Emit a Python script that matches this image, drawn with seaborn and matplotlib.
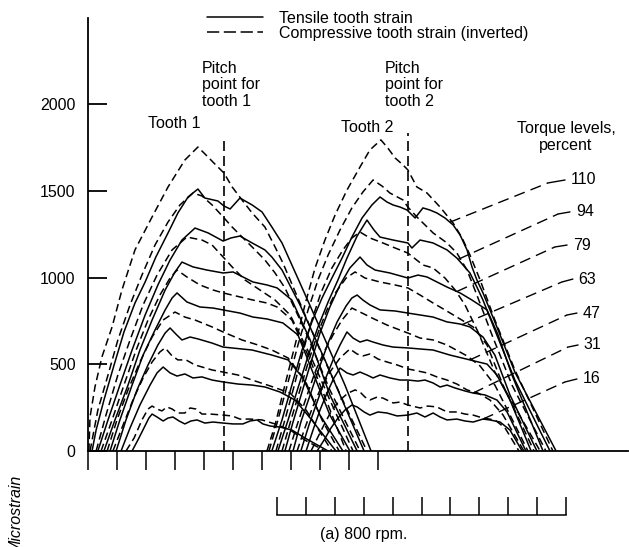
import numpy as np
import pandas as pd
import matplotlib
matplotlib.use("Agg")
import matplotlib.pyplot as plt
from matplotlib.lines import Line2D
import seaborn as sns

# Torque levels, percent
LEVELS = [110, 94, 79, 63, 47, 31, 16]

# ---- Tooth 1: (roll position, microstrain) ----
T1_COMP_110 = [(0.03, 0), (0.07, 196), (0.24, 369), (0.48, 542), (0.83, 715), (1.17, 928), (1.62, 1159), (2.21, 1349),
               (2.76, 1522), (3.34, 1677), (3.79, 1752), (4.07, 1706), (4.34, 1660), (4.69, 1602), (4.97, 1522),
               (5.31, 1447), (5.66, 1372), (6.10, 1291), (6.45, 1176), (6.72, 1084), (7.31, 853), (8.00, 582),
               (8.86, 265), (9.62, 0)]
T1_TEN_110 = [(0.14, 0), (0.28, 121), (0.55, 294), (0.90, 496), (1.24, 686), (1.62, 853), (1.97, 974), (2.34, 1118),
              (2.76, 1257), (3.10, 1372), (3.45, 1464), (3.79, 1510), (4.03, 1458), (4.48, 1441), (4.69, 1412),
              (4.90, 1395), (5.24, 1458), (5.66, 1418), (6.00, 1378), (6.34, 1291), (6.69, 1199), (7.31, 968),
              (8.00, 709), (8.86, 380), (9.76, 0)]
T1_COMP_94 = [(0.07, 0), (0.34, 236), (0.69, 438), (1.03, 640), (1.45, 842), (1.86, 1014), (2.31, 1187), (2.76, 1320),
              (3.17, 1418), (3.62, 1487), (3.93, 1470), (4.28, 1418), (4.66, 1349), (4.97, 1291), (5.31, 1234),
              (5.66, 1176), (6.10, 1101), (6.45, 1026), (6.79, 940), (7.48, 697), (8.34, 352), (9.38, 0)]
T1_TEN_94 = [(0.34, 0), (0.69, 179), (1.10, 380), (1.52, 582), (1.97, 784), (2.41, 957), (2.83, 1101), (3.24, 1216),
             (3.69, 1285), (4.14, 1257), (4.66, 1210), (4.93, 1228), (5.24, 1239), (5.66, 1199), (6.10, 1159),
             (6.34, 1118), (6.69, 1043), (7.31, 842), (8.17, 525), (9.52, 0)]
T1_COMP_79 = [(0.28, 0), (0.62, 207), (1.03, 438), (1.45, 640), (1.90, 842), (2.38, 1014), (2.90, 1159), (3.41, 1233),
              (3.93, 1216), (4.28, 1187), (4.66, 1118), (4.97, 1061), (5.41, 986), (5.93, 928), (6.45, 870),
              (6.97, 784), (7.66, 553), (8.34, 294), (9.14, 0)]
T1_TEN_79 = [(0.55, 0), (0.93, 179), (1.38, 380), (1.79, 582), (2.21, 755), (2.66, 928), (3.00, 1032), (3.24, 1089),
             (3.62, 1061), (4.10, 1043), (4.66, 1026), (5.00, 1032), (5.69, 974), (6.17, 957), (6.52, 940),
             (7.03, 870), (7.66, 640), (8.34, 323), (9.28, 0)]
T1_COMP_63 = [(0.45, 0), (0.83, 179), (1.24, 380), (1.66, 582), (2.07, 755), (2.48, 899), (2.83, 997), (3.07, 1043),
              (3.41, 1003), (3.86, 957), (4.31, 928), (4.66, 911), (5.24, 888), (5.69, 870), (6.17, 853),
              (6.52, 830), (7.03, 755), (7.66, 525), (8.28, 265), (8.90, 0)]
T1_TEN_63 = [(0.76, 0), (1.10, 179), (1.52, 380), (1.90, 553), (2.31, 697), (2.66, 813), (2.90, 882), (3.07, 911),
             (3.41, 859), (3.86, 830), (4.31, 824), (4.66, 813), (5.24, 795), (5.69, 772), (6.17, 761),
             (6.72, 738), (7.24, 669), (7.72, 467), (8.34, 207), (9.03, 0)]
T1_COMP_47 = [(0.66, 0), (1.00, 179), (1.38, 352), (1.79, 513), (2.21, 657), (2.59, 755), (3.00, 801), (3.34, 772),
              (3.69, 755), (4.28, 715), (4.66, 686), (5.31, 640), (5.86, 611), (6.34, 582), (6.90, 536),
              (7.48, 409), (8.07, 179), (8.66, 0)]
T1_TEN_47 = [(0.97, 0), (1.31, 179), (1.69, 352), (2.07, 496), (2.41, 611), (2.66, 680), (2.83, 709), (3.03, 674),
             (3.24, 640), (3.52, 657), (3.79, 646), (4.28, 622), (4.66, 599), (5.66, 582), (6.34, 553),
             (6.90, 525), (7.41, 421), (8.00, 207), (8.79, 0)]
T1_COMP_31 = [(0.86, 0), (1.21, 150), (1.55, 294), (1.90, 421), (2.21, 513), (2.48, 571), (2.66, 594), (2.90, 548),
              (3.10, 525), (3.38, 525), (3.69, 496), (4.28, 467), (4.66, 455), (5.17, 438), (5.66, 409),
              (6.28, 375), (6.97, 334), (7.52, 236), (8.41, 0)]
T1_TEN_31 = [(1.14, 0), (1.45, 133), (1.79, 265), (2.14, 380), (2.38, 450), (2.59, 484), (2.83, 450), (3.07, 432),
             (3.34, 444), (3.62, 421), (3.93, 427), (4.28, 409), (4.66, 398), (5.17, 386), (5.66, 380),
             (6.10, 369), (6.62, 340), (7.14, 294), (7.66, 190), (8.55, 0)]
T1_COMP_16 = [(1.31, 0), (1.59, 75), (1.86, 179), (2.07, 242), (2.21, 259), (2.38, 242), (2.55, 231), (2.72, 254),
              (2.90, 242), (3.10, 219), (3.34, 219), (3.52, 248), (3.72, 242), (3.93, 213), (4.21, 213),
              (4.66, 207), (4.97, 202), (5.24, 184), (5.59, 184), (6.00, 179), (6.45, 156), (6.97, 121),
              (7.48, 63), (8.17, 0)]
T1_TEN_16 = [(1.52, 0), (1.72, 63), (1.93, 133), (2.10, 190), (2.21, 213), (2.38, 196), (2.59, 173), (2.76, 190),
             (2.93, 196), (3.14, 173), (3.34, 156), (3.55, 173), (3.76, 179), (4.03, 161), (4.31, 167),
             (4.66, 161), (5.00, 156), (5.34, 156), (5.59, 173), (5.83, 179), (6.03, 156), (6.28, 144),
             (6.62, 138), (7.03, 121), (7.48, 75), (8.28, 0)]

# ---- Tooth 2 ----
T2_COMP_110 = [(6.17, 0), (6.45, 150), (6.79, 380), (7.14, 611), (7.48, 842), (7.83, 1055), (8.17, 1216), (8.52, 1360),
               (8.93, 1504), (9.38, 1637), (9.72, 1735), (10.10, 1793), (10.34, 1746), (10.59, 1689), (10.86, 1649),
               (11.03, 1620), (11.34, 1522), (11.69, 1487), (12.14, 1406), (12.59, 1314), (12.90, 1228),
               (13.17, 1130), (13.52, 986), (14.03, 755), (14.72, 467), (16.03, 0)]
T2_TEN_110 = [(6.34, 0), (6.69, 179), (7.03, 380), (7.38, 582), (7.72, 744), (8.07, 882), (8.41, 997), (8.76, 1112),
              (9.10, 1233), (9.45, 1343), (9.79, 1418), (10.07, 1464), (10.31, 1435), (10.52, 1418), (10.76, 1406),
              (11.00, 1389), (11.28, 1343), (11.55, 1401), (11.79, 1389), (12.03, 1372), (12.31, 1343),
              (12.59, 1303), (12.83, 1245), (13.07, 1159), (13.24, 1061), (13.41, 986), (13.62, 911),
              (14.03, 744), (14.72, 455), (16.14, 0)]
T2_COMP_94 = [(6.24, 0), (6.55, 179), (6.90, 398), (7.24, 611), (7.59, 813), (7.93, 986), (8.28, 1130), (8.69, 1274),
              (9.10, 1401), (9.48, 1493), (9.83, 1562), (10.14, 1527), (10.41, 1487), (10.86, 1447), (11.03, 1406),
              (11.34, 1349), (11.90, 1257), (12.38, 1199), (12.72, 1141), (13.07, 1043), (13.41, 899),
              (13.93, 669), (14.62, 380), (15.79, 0)]
T2_TEN_94 = [(6.55, 0), (6.90, 179), (7.24, 363), (7.59, 548), (7.93, 715), (8.28, 859), (8.62, 986), (8.93, 1112),
             (9.28, 1239), (9.62, 1331), (9.86, 1274), (10.07, 1233), (10.52, 1216), (11.03, 1199), (11.17, 1170),
             (11.45, 1216), (11.90, 1199), (12.38, 1159), (12.72, 1112), (12.93, 1072), (13.17, 1026),
             (13.41, 945), (13.62, 870), (14.03, 697), (14.72, 409), (15.93, 0)]
T2_COMP_79 = [(6.48, 0), (6.79, 179), (7.10, 369), (7.41, 571), (7.72, 755), (8.03, 911), (8.41, 1055), (8.79, 1159),
              (9.10, 1228), (9.38, 1262), (9.72, 1228), (10.17, 1199), (10.59, 1170), (11.03, 1141), (11.55, 1072),
              (11.90, 1055), (12.31, 997), (12.66, 928), (13.00, 842), (13.45, 686), (14.03, 455), (15.59, 0)]
T2_TEN_79 = [(6.79, 0), (7.07, 167), (7.38, 340), (7.69, 513), (8.00, 680), (8.34, 830), (8.69, 957), (9.03, 1055),
             (9.38, 1118), (9.62, 1072), (9.90, 1043), (10.41, 1026), (11.03, 997), (11.38, 1014), (11.69, 1003),
             (12.38, 945), (12.83, 911), (13.24, 870), (13.76, 813), (14.14, 669), (14.62, 438), (15.69, 0)]
T2_COMP_63 = [(6.69, 0), (7.00, 179), (7.31, 352), (7.62, 525), (7.93, 680), (8.24, 813), (8.55, 916), (8.90, 997),
              (9.21, 1032), (9.55, 997), (10.07, 974), (10.59, 957), (11.03, 940), (11.45, 899), (11.90, 853),
              (12.31, 813), (12.72, 772), (13.28, 715), (13.76, 611), (14.31, 380), (15.38, 0)]
T2_TEN_63 = [(7.07, 0), (7.34, 167), (7.66, 323), (7.97, 478), (8.28, 623), (8.59, 744), (8.90, 836), (9.10, 882),
             (9.28, 899), (9.48, 870), (9.72, 842), (10.07, 813), (10.59, 807), (11.03, 795), (11.45, 784),
             (11.90, 772), (12.38, 744), (12.83, 732), (13.17, 715), (13.62, 657), (14.03, 553), (14.55, 323),
             (15.48, 0)]
T2_COMP_47 = [(6.93, 0), (7.21, 150), (7.52, 305), (7.83, 455), (8.14, 571), (8.45, 669), (8.76, 755), (9.10, 824),
              (9.38, 801), (9.79, 767), (10.31, 726), (10.76, 697), (11.03, 680), (11.45, 651), (11.90, 640),
              (12.38, 611), (13.07, 548), (13.52, 490), (14.03, 380), (14.55, 208), (15.17, 0)]
T2_TEN_47 = [(7.34, 0), (7.62, 150), (7.90, 282), (8.17, 409), (8.45, 525), (8.69, 611), (8.93, 686), (9.14, 651),
             (9.38, 628), (9.62, 640), (9.83, 628), (10.17, 611), (10.52, 599), (11.03, 594), (11.45, 588),
             (11.90, 582), (12.48, 553), (13.17, 525), (13.76, 501), (14.10, 438), (14.55, 294), (15.28, 0)]
T2_COMP_31 = [(7.21, 0), (7.48, 133), (7.76, 259), (8.03, 363), (8.34, 455), (8.69, 536), (9.03, 588), (9.28, 559),
              (9.48, 548), (9.72, 559), (10.00, 530), (10.31, 513), (10.66, 496), (11.03, 473), (11.38, 461),
              (11.69, 450), (12.03, 427), (12.38, 409), (12.72, 386), (13.07, 352), (13.45, 334), (13.86, 294),
              (14.31, 208), (15.03, 0)]
T2_TEN_31 = [(7.52, 0), (7.76, 121), (8.00, 236), (8.24, 334), (8.48, 421), (8.69, 478), (8.93, 450), (9.14, 438),
             (9.38, 455), (9.62, 438), (9.83, 421), (10.07, 438), (10.41, 421), (10.76, 409), (11.03, 409),
             (11.38, 403), (11.62, 409), (11.90, 392), (12.14, 369), (12.38, 380), (12.66, 363), (13.00, 346),
             (13.28, 334), (13.69, 323), (14.10, 294), (14.45, 225), (15.10, 0)]
T2_COMP_16 = [(7.69, 0), (7.93, 81), (8.17, 161), (8.41, 236), (8.69, 294), (8.97, 334), (9.21, 352), (9.38, 340),
              (9.55, 311), (9.72, 294), (9.97, 311), (10.17, 305), (10.52, 277), (10.76, 282), (11.03, 265),
              (11.45, 248), (11.72, 259), (12.03, 254), (12.38, 225), (12.72, 225), (13.00, 213), (13.28, 207),
              (13.62, 190), (14.03, 179), (14.38, 133), (14.86, 0)]
T2_TEN_16 = [(7.90, 0), (8.14, 63), (8.38, 133), (8.62, 190), (8.86, 236), (9.10, 265), (9.28, 254), (9.52, 225),
             (9.72, 207), (10.00, 225), (10.31, 219), (10.66, 202), (11.03, 207), (11.34, 219), (11.62, 196),
             (11.90, 219), (12.14, 196), (12.38, 179), (12.72, 184), (13.00, 173), (13.28, 167), (13.62, 184),
             (13.86, 179), (14.21, 167), (14.55, 121), (14.97, 0)]

TOOTH1_TENSILE = [T1_TEN_110, T1_TEN_94, T1_TEN_79, T1_TEN_63, T1_TEN_47, T1_TEN_31, T1_TEN_16]
TOOTH1_COMPRESSIVE = [T1_COMP_110, T1_COMP_94, T1_COMP_79, T1_COMP_63, T1_COMP_47, T1_COMP_31, T1_COMP_16]
TOOTH2_TENSILE = [T2_TEN_110, T2_TEN_94, T2_TEN_79, T2_TEN_63, T2_TEN_47, T2_TEN_31, T2_TEN_16]
TOOTH2_COMPRESSIVE = [T2_COMP_110, T2_COMP_94, T2_COMP_79, T2_COMP_63, T2_COMP_47, T2_COMP_31, T2_COMP_16]

# Pitch point positions and the height of their markers
PITCH_X = [4.69, 11.03]
PITCH_TOP = [1810, 1833]

# Torque-level callouts: anchor on the tooth-2 tensile trace, elbow, label end
CALLOUT_ANCHOR_X = [12.48, 12.76, 12.72, 12.90, 13.17, 13.28, 13.62]
CALLOUT_ELBOW_X = [15.86, 16.21, 16.10, 16.34, 16.52, 16.55, 16.45]
CALLOUT_ELBOW_Y = [1545, 1366, 1176, 974, 784, 599, 398]
CALLOUT_END_X = [16.45, 16.62, 16.52, 16.72, 16.86, 16.90, 16.86]
CALLOUT_END_Y = [1562, 1378, 1187, 991, 795, 611, 415]

Y_TICKS = [0, 500, 1000, 1500, 2000]

# ---- assemble long-form table ----
rows = []
for tooth, ten, comp in [(1, TOOTH1_TENSILE, TOOTH1_COMPRESSIVE), (2, TOOTH2_TENSILE, TOOTH2_COMPRESSIVE)]:
    for level, t_curve, c_curve in zip(LEVELS, ten, comp):
        for kind, curve in [("Tensile", t_curve), ("Compressive", c_curve)]:
            cid = f"{tooth}-{kind}-{level}"
            for x, y in curve:
                rows.append({"pos": x, "strain": y, "kind": kind, "curve": cid})
df = pd.DataFrame(rows)

sns.set_theme(style="ticks")
plt.rcParams["font.family"] = ["Liberation Sans", "DejaVu Sans"]
for key in ["text.color", "axes.labelcolor", "xtick.color", "ytick.color", "axes.edgecolor"]:
    plt.rcParams[key] = "black"
FS = 11.5

fig = plt.figure(figsize=(6.29, 5.47), dpi=100)
ax = fig.add_axes([88 / 629, 96 / 547, 540 / 629, 433 / 547])

sns.lineplot(data=df, x="pos", y="strain", units="curve", style="kind",
             style_order=["Tensile", "Compressive"],
             dashes={"Tensile": "", "Compressive": (5, 2.8)},
             color="black", estimator=None, sort=False, linewidth=1.1,
             legend=False, ax=ax)

# pitch point markers
for px, top in zip(PITCH_X, PITCH_TOP):
    ax.plot([px, px], [0, top], color="black", lw=1.2, dashes=(6, 3))

# torque-level callouts
for i, level in enumerate(LEVELS):
    curve = TOOTH2_TENSILE[i]
    cx = [p[0] for p in curve]
    cy = [p[1] for p in curve]
    ay = float(np.interp(CALLOUT_ANCHOR_X[i], cx, cy))
    ax.plot([CALLOUT_ANCHOR_X[i], CALLOUT_ELBOW_X[i]], [ay, CALLOUT_ELBOW_Y[i]],
            color="black", lw=1.0, dashes=(8, 4.5))
    ax.plot([CALLOUT_ELBOW_X[i], CALLOUT_END_X[i]], [CALLOUT_ELBOW_Y[i], CALLOUT_END_Y[i]],
            color="black", lw=1.0)
    ax.text(CALLOUT_END_X[i] + 0.2, CALLOUT_END_Y[i], str(level), fontsize=FS,
            ha="left", va="center")

# axes styling
ax.set_xlim(0, 540 / 29)
ax.set_ylim(0, 433 / 0.1735)
ax.set_xticks(range(11))
ax.set_xticklabels([])
ax.set_yticks(Y_TICKS)
ax.set_yticklabels([str(v) for v in Y_TICKS])
ax.tick_params(axis="x", direction="out", length=14, width=1.1, color="black")
ax.tick_params(axis="y", direction="in", length=14, width=1.3, pad=9, labelsize=FS,
               color="black", labelcolor="black")
for side in ["top", "right"]:
    ax.spines[side].set_visible(False)
for side in ["left", "bottom"]:
    ax.spines[side].set_linewidth(1.3)
    ax.spines[side].set_color("black")
ax.set_xlabel("")
ax.set_ylabel("")
ax.patch.set_visible(False)

# annotations
ax.text(3.93, 2110, "Pitch\npoint for\ntooth 1", fontsize=FS, ha="left", va="center", linespacing=1.15)
ax.text(10.24, 2110, "Pitch\npoint for\ntooth 2", fontsize=FS, ha="left", va="center", linespacing=1.15)
ax.text(2.97, 1890, "Tooth 1", fontsize=FS, ha="center", va="center")
ax.text(9.62, 1862, "Tooth 2", fontsize=FS, ha="center", va="center")
ax.text(16.48, 1810, "Torque levels,\npercent", fontsize=FS, ha="center", va="center", linespacing=1.2)

# legend
handles = [Line2D([], [], color="black", lw=1.1),
           Line2D([], [], color="black", lw=1.1, dashes=(8, 3))]
fig.legend(handles, ["Tensile tooth strain", "Compressive tooth strain (inverted)"],
           loc="upper left", bbox_to_anchor=(207 / 629, 1 - 11 / 547),
           frameon=False, fontsize=FS, handlelength=3.5, handletextpad=1.0,
           labelspacing=0.0, borderpad=0, borderaxespad=0)

# secondary time scale bracket
bx = fig.add_axes([277 / 629, 32 / 547, 289 / 629, 0.03])
bx.set_xlim(0, 10)
bx.set_ylim(0, 1)
bx.set_xticks(range(11))
bx.set_xticklabels([])
bx.set_yticks([])
bx.tick_params(axis="x", direction="in", length=13, width=1.1, color="black")
for side in ["top", "right", "left"]:
    bx.spines[side].set_visible(False)
bx.spines["bottom"].set_linewidth(1.1)
bx.spines["bottom"].set_color("black")
bx.patch.set_visible(False)

fig.text(364 / 629, 1 - 535 / 547, "(a) 800 rpm.", fontsize=FS, ha="center", va="center")
fig.text(16.5 / 629, 1 - 475 / 547, "Microstrain", fontsize=FS, style="italic",
         rotation=90, ha="center", va="top")

fig.savefig("out.png", dpi=100)
